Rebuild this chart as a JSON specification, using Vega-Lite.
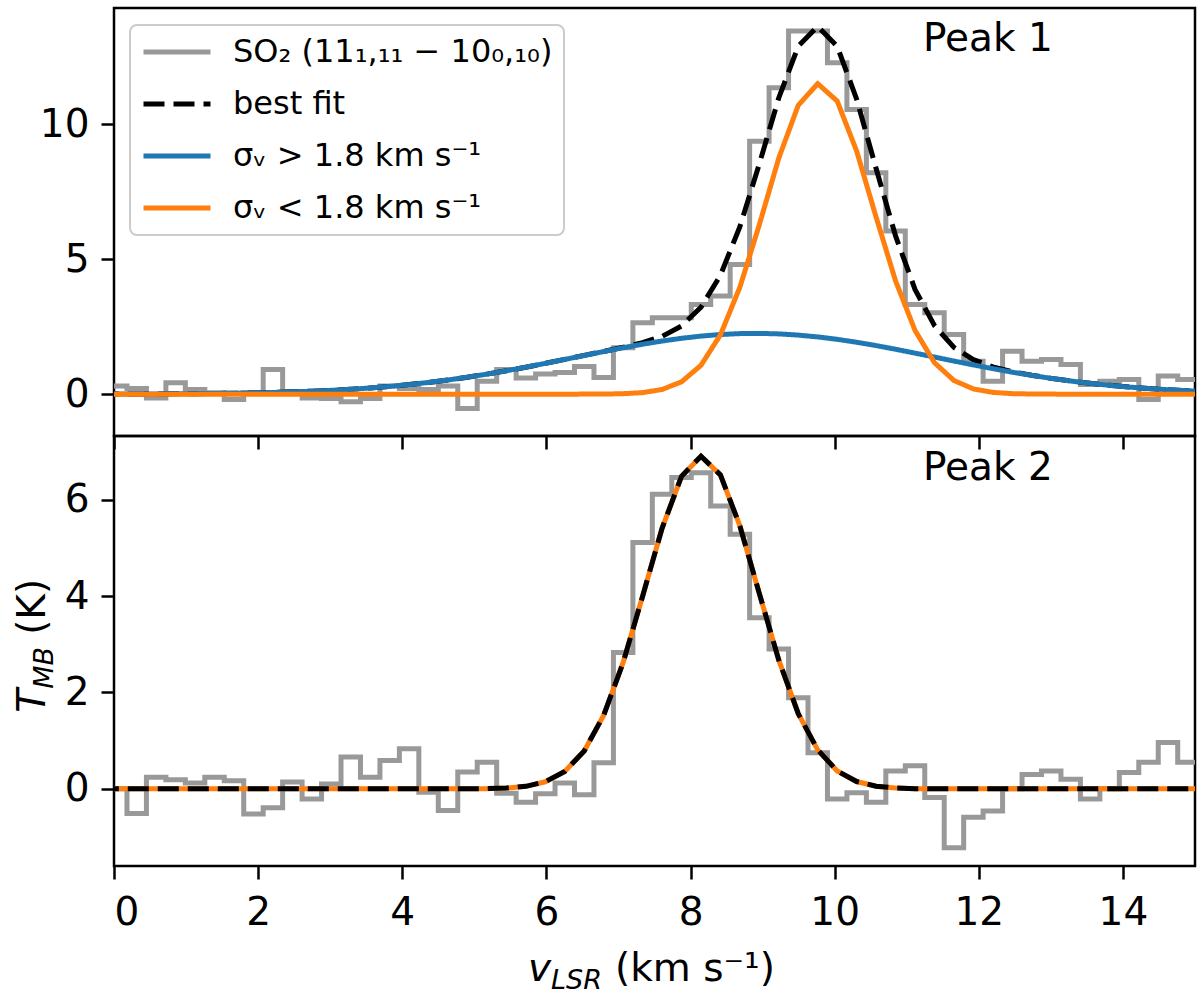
{
  "$schema": "https://vega.github.io/schema/vega-lite/v6.json",
  "background": "white",
  "padding": {"left": 12, "top": 6, "right": 5, "bottom": 0},
  "config": {
    "font": "DejaVu Sans",
    "view": {"stroke": "black", "strokeWidth": 2.5},
    "axis": {"grid": false, "domain": false, "ticks": true, "tickSize": 13, "tickWidth": 2.5, "tickColor": "black", "labelFont": "DejaVu Sans", "labelFontSize": 39, "labelColor": "black", "format": "d"},
    "legend": {
      "orient": "none", "legendX": 16, "legendY": 17, "title": null,
      "symbolType": "stroke", "symbolSize": 4489, "symbolStrokeWidth": 5,
      "labelFont": "DejaVu Sans", "labelFontSize": 32, "labelColor": "black", "labelLimit": 700,
      "labelOffset": 20, "rowPadding": 20, "padding": 11, "clipHeight": 32,
      "strokeColor": "#cccccc", "strokeWidth": 2, "fillColor": "rgba(255,255,255,0.8)", "cornerRadius": 7
    }
  },
  "datasets": {
    "top": [
      {"v": -0.225, "obs": 0.30, "best": 0.003, "broad": 0.003, "narrow": 0},
      {"v": 0.045, "obs": 0.30, "best": 0.004, "broad": 0.004, "narrow": 0},
      {"v": 0.315, "obs": 0.21, "best": 0.006, "broad": 0.006, "narrow": 0},
      {"v": 0.585, "obs": -0.14, "best": 0.009, "broad": 0.009, "narrow": 0},
      {"v": 0.855, "obs": 0.42, "best": 0.013, "broad": 0.013, "narrow": 0},
      {"v": 1.125, "obs": 0.17, "best": 0.018, "broad": 0.018, "narrow": 0},
      {"v": 1.395, "obs": 0.05, "best": 0.025, "broad": 0.025, "narrow": 0},
      {"v": 1.665, "obs": -0.20, "best": 0.034, "broad": 0.034, "narrow": 0},
      {"v": 1.935, "obs": 0.05, "best": 0.046, "broad": 0.046, "narrow": 0},
      {"v": 2.205, "obs": 0.91, "best": 0.062, "broad": 0.062, "narrow": 0},
      {"v": 2.475, "obs": 0.10, "best": 0.083, "broad": 0.083, "narrow": 0},
      {"v": 2.745, "obs": -0.14, "best": 0.109, "broad": 0.109, "narrow": 0},
      {"v": 3.015, "obs": -0.16, "best": 0.141, "broad": 0.141, "narrow": 0},
      {"v": 3.285, "obs": -0.28, "best": 0.181, "broad": 0.181, "narrow": 0},
      {"v": 3.555, "obs": -0.16, "best": 0.229, "broad": 0.229, "narrow": 0},
      {"v": 3.825, "obs": 0.30, "best": 0.287, "broad": 0.287, "narrow": 0},
      {"v": 4.095, "obs": 0.21, "best": 0.355, "broad": 0.355, "narrow": 0},
      {"v": 4.365, "obs": 0.17, "best": 0.434, "broad": 0.434, "narrow": 0},
      {"v": 4.635, "obs": 0.30, "best": 0.525, "broad": 0.525, "narrow": 0},
      {"v": 4.905, "obs": -0.53, "best": 0.628, "broad": 0.628, "narrow": 0},
      {"v": 5.175, "obs": 0.48, "best": 0.742, "broad": 0.742, "narrow": 0},
      {"v": 5.445, "obs": 0.91, "best": 0.866, "broad": 0.866, "narrow": 0},
      {"v": 5.715, "obs": 0.60, "best": 0.999, "broad": 0.999, "narrow": 0},
      {"v": 5.985, "obs": 0.75, "best": 1.140, "broad": 1.140, "narrow": 0},
      {"v": 6.255, "obs": 0.80, "best": 1.286, "broad": 1.286, "narrow": 0},
      {"v": 6.525, "obs": 1.02, "best": 1.434, "broad": 1.433, "narrow": 0.001},
      {"v": 6.795, "obs": 0.62, "best": 1.582, "broad": 1.578, "narrow": 0.004},
      {"v": 7.065, "obs": 1.72, "best": 1.735, "broad": 1.719, "narrow": 0.016},
      {"v": 7.335, "obs": 2.64, "best": 1.907, "broad": 1.850, "narrow": 0.057},
      {"v": 7.605, "obs": 2.83, "best": 2.139, "broad": 1.967, "narrow": 0.172},
      {"v": 7.875, "obs": 2.83, "best": 2.525, "broad": 2.068, "narrow": 0.457},
      {"v": 8.145, "obs": 3.32, "best": 3.218, "broad": 2.150, "narrow": 1.068},
      {"v": 8.415, "obs": 3.63, "best": 4.403, "broad": 2.208, "narrow": 2.195},
      {"v": 8.685, "obs": 4.80, "best": 6.204, "broad": 2.242, "narrow": 3.962},
      {"v": 8.955, "obs": 9.37, "best": 8.530, "broad": 2.250, "narrow": 6.280},
      {"v": 9.225, "obs": 11.35, "best": 10.977, "broad": 2.231, "narrow": 8.746},
      {"v": 9.495, "obs": 13.45, "best": 12.885, "broad": 2.187, "narrow": 10.698},
      {"v": 9.765, "obs": 13.45, "best": 13.617, "broad": 2.119, "narrow": 11.498},
      {"v": 10.035, "obs": 12.27, "best": 12.884, "broad": 2.030, "narrow": 10.854},
      {"v": 10.305, "obs": 10.54, "best": 10.922, "broad": 1.921, "narrow": 9.001},
      {"v": 10.575, "obs": 8.20, "best": 8.355, "broad": 1.798, "narrow": 6.557},
      {"v": 10.845, "obs": 6.04, "best": 5.859, "broad": 1.663, "narrow": 4.196},
      {"v": 11.115, "obs": 3.32, "best": 3.878, "broad": 1.519, "narrow": 2.359},
      {"v": 11.385, "obs": 3.01, "best": 2.538, "broad": 1.373, "narrow": 1.165},
      {"v": 11.655, "obs": 2.21, "best": 1.731, "broad": 1.226, "narrow": 0.505},
      {"v": 11.925, "obs": 1.22, "best": 1.275, "broad": 1.082, "narrow": 0.193},
      {"v": 12.195, "obs": 0.48, "best": 1.009, "broad": 0.944, "narrow": 0.065},
      {"v": 12.465, "obs": 1.59, "best": 0.833, "broad": 0.814, "narrow": 0.019},
      {"v": 12.735, "obs": 1.22, "best": 0.699, "broad": 0.694, "narrow": 0.005},
      {"v": 13.005, "obs": 1.28, "best": 0.585, "broad": 0.584, "narrow": 0.001},
      {"v": 13.275, "obs": 1.10, "best": 0.487, "broad": 0.487, "narrow": 0},
      {"v": 13.545, "obs": 0.36, "best": 0.400, "broad": 0.400, "narrow": 0},
      {"v": 13.815, "obs": 0.48, "best": 0.326, "broad": 0.326, "narrow": 0},
      {"v": 14.085, "obs": 0.54, "best": 0.262, "broad": 0.262, "narrow": 0},
      {"v": 14.355, "obs": -0.20, "best": 0.208, "broad": 0.208, "narrow": 0},
      {"v": 14.625, "obs": 0.67, "best": 0.164, "broad": 0.164, "narrow": 0},
      {"v": 14.895, "obs": 0.54, "best": 0.127, "broad": 0.127, "narrow": 0},
      {"v": 15.165, "obs": 0.54, "best": 0.097, "broad": 0.097, "narrow": 0}
    ],
    "bottom": [
      {"v": -0.225, "obs": 0.0, "fit": 0},
      {"v": 0.045, "obs": 0.0, "fit": 0},
      {"v": 0.315, "obs": -0.51, "fit": 0},
      {"v": 0.585, "obs": 0.24, "fit": 0},
      {"v": 0.855, "obs": 0.19, "fit": 0},
      {"v": 1.125, "obs": 0.12, "fit": 0},
      {"v": 1.395, "obs": 0.24, "fit": 0},
      {"v": 1.665, "obs": 0.17, "fit": 0},
      {"v": 1.935, "obs": -0.52, "fit": 0},
      {"v": 2.205, "obs": -0.39, "fit": 0},
      {"v": 2.475, "obs": 0.14, "fit": 0},
      {"v": 2.745, "obs": -0.21, "fit": 0},
      {"v": 3.015, "obs": 0.10, "fit": 0},
      {"v": 3.285, "obs": 0.66, "fit": 0},
      {"v": 3.555, "obs": 0.24, "fit": 0},
      {"v": 3.825, "obs": 0.59, "fit": 0},
      {"v": 4.095, "obs": 0.83, "fit": 0},
      {"v": 4.365, "obs": -0.07, "fit": 0},
      {"v": 4.635, "obs": -0.45, "fit": 0},
      {"v": 4.905, "obs": 0.35, "fit": 0},
      {"v": 5.175, "obs": 0.55, "fit": 0.005},
      {"v": 5.445, "obs": -0.09, "fit": 0.017},
      {"v": 5.715, "obs": -0.28, "fit": 0.053},
      {"v": 5.985, "obs": -0.10, "fit": 0.147},
      {"v": 6.255, "obs": 0.12, "fit": 0.361},
      {"v": 6.525, "obs": -0.12, "fit": 0.787},
      {"v": 6.795, "obs": 0.54, "fit": 1.526},
      {"v": 7.065, "obs": 2.83, "fit": 2.622},
      {"v": 7.335, "obs": 5.11, "fit": 3.997},
      {"v": 7.605, "obs": 6.11, "fit": 5.405},
      {"v": 7.875, "obs": 6.46, "fit": 6.484},
      {"v": 8.145, "obs": 6.56, "fit": 6.900},
      {"v": 8.415, "obs": 5.87, "fit": 6.513},
      {"v": 8.685, "obs": 5.28, "fit": 5.454},
      {"v": 8.955, "obs": 3.55, "fit": 4.051},
      {"v": 9.225, "obs": 2.90, "fit": 2.669},
      {"v": 9.495, "obs": 1.89, "fit": 1.560},
      {"v": 9.765, "obs": 0.75, "fit": 0.809},
      {"v": 10.035, "obs": -0.21, "fit": 0.372},
      {"v": 10.305, "obs": -0.08, "fit": 0.152},
      {"v": 10.575, "obs": -0.28, "fit": 0.055},
      {"v": 10.845, "obs": 0.37, "fit": 0.018},
      {"v": 11.115, "obs": 0.48, "fit": 0.005},
      {"v": 11.385, "obs": -0.18, "fit": 0},
      {"v": 11.655, "obs": -1.22, "fit": 0},
      {"v": 11.925, "obs": -0.59, "fit": 0},
      {"v": 12.195, "obs": -0.46, "fit": 0},
      {"v": 12.465, "obs": 0.0, "fit": 0},
      {"v": 12.735, "obs": 0.30, "fit": 0},
      {"v": 13.005, "obs": 0.37, "fit": 0},
      {"v": 13.275, "obs": 0.20, "fit": 0},
      {"v": 13.545, "obs": -0.21, "fit": 0},
      {"v": 13.815, "obs": 0.0, "fit": 0},
      {"v": 14.085, "obs": 0.34, "fit": 0},
      {"v": 14.355, "obs": 0.55, "fit": 0},
      {"v": 14.625, "obs": 0.96, "fit": 0},
      {"v": 14.895, "obs": 0.55, "fit": 0},
      {"v": 15.165, "obs": 0.55, "fit": 0}
    ]
  },
  "spacing": 0,
  "bounds": "flush",
  "resolve": {"scale": {"color": "independent", "strokeDash": "independent"}},
  "vconcat": [
    {
      "width": 1081,
      "height": 428,
      "layer": [
        {
          "data": {"name": "top"},
          "mark": {"type": "line", "interpolate": "step", "clip": true, "strokeWidth": 5},
          "encoding": {
            "x": {"field": "v", "type": "quantitative", "scale": {"domain": [0, 15], "nice": false, "zero": false}, "axis": {"values": [0, 2, 4, 6, 8, 10, 12, 14], "labels": false, "title": null}},
            "y": {"field": "obs", "type": "quantitative", "scale": {"domain": [-1.55, 14.3], "nice": false, "zero": false}, "axis": {"values": [0, 5, 10], "title": null, "labelPadding": 12}},
            "color": {"datum": "SO₂ (11₁,₁₁ − 10₀,₁₀)", "type": "nominal", "scale": {"domain": ["SO₂ (11₁,₁₁ − 10₀,₁₀)", "best fit", "σᵥ > 1.8 km s⁻¹", "σᵥ < 1.8 km s⁻¹"], "range": ["#999999", "#000000", "#1f77b4", "#ff7f0e"]}},
            "strokeDash": {"datum": "SO₂ (11₁,₁₁ − 10₀,₁₀)", "type": "nominal", "scale": {"domain": ["SO₂ (11₁,₁₁ − 10₀,₁₀)", "best fit", "σᵥ > 1.8 km s⁻¹", "σᵥ < 1.8 km s⁻¹"], "range": [[1, 0], [21, 9], [1, 0], [1, 0]]}}
          }
        },
        {
          "data": {"name": "top"},
          "mark": {"type": "line", "clip": true, "strokeWidth": 5},
          "encoding": {
            "x": {"field": "v", "type": "quantitative", "scale": {"domain": [0, 15], "nice": false, "zero": false}},
            "y": {"field": "best", "type": "quantitative", "scale": {"domain": [-1.55, 14.3], "nice": false, "zero": false}},
            "color": {"datum": "best fit", "type": "nominal"},
            "strokeDash": {"datum": "best fit", "type": "nominal"}
          }
        },
        {
          "data": {"name": "top"},
          "mark": {"type": "line", "clip": true, "strokeWidth": 5},
          "encoding": {
            "x": {"field": "v", "type": "quantitative", "scale": {"domain": [0, 15], "nice": false, "zero": false}},
            "y": {"field": "broad", "type": "quantitative", "scale": {"domain": [-1.55, 14.3], "nice": false, "zero": false}},
            "color": {"datum": "σᵥ > 1.8 km s⁻¹", "type": "nominal"},
            "strokeDash": {"datum": "σᵥ > 1.8 km s⁻¹", "type": "nominal"}
          }
        },
        {
          "data": {"name": "top"},
          "mark": {"type": "line", "clip": true, "strokeWidth": 5},
          "encoding": {
            "x": {"field": "v", "type": "quantitative", "scale": {"domain": [0, 15], "nice": false, "zero": false}},
            "y": {"field": "narrow", "type": "quantitative", "scale": {"domain": [-1.55, 14.3], "nice": false, "zero": false}},
            "color": {"datum": "σᵥ < 1.8 km s⁻¹", "type": "nominal"},
            "strokeDash": {"datum": "σᵥ < 1.8 km s⁻¹", "type": "nominal"}
          }
        },
        {
          "data": {"values": [{}]},
          "mark": {"type": "text", "text": "Peak 1", "align": "left", "baseline": "alphabetic", "fontSize": 39, "font": "DejaVu Sans", "color": "black"},
          "encoding": {
            "x": {"datum": 11.225, "type": "quantitative", "scale": {"domain": [0, 15], "nice": false, "zero": false}},
            "y": {"datum": 12.70, "type": "quantitative", "scale": {"domain": [-1.55, 14.3], "nice": false, "zero": false}}
          }
        }
      ]
    },
    {
      "width": 1081,
      "height": 430,
      "layer": [
        {
          "data": {"name": "bottom"},
          "mark": {"type": "line", "interpolate": "step", "clip": true, "strokeWidth": 5, "stroke": "#999999"},
          "encoding": {
            "x": {"field": "v", "type": "quantitative", "scale": {"domain": [0, 15], "nice": false, "zero": false}, "axis": {"values": [0, 2, 4, 6, 8, 10, 12, 14], "title": null, "labelPadding": 14, "format": "d"}},
            "y": {"field": "obs", "type": "quantitative", "scale": {"domain": [-1.6, 7.32], "nice": false, "zero": false}, "axis": {"values": [0, 2, 4, 6], "title": null, "labelPadding": 12, "format": "d"}}
          }
        },
        {
          "data": {"name": "bottom"},
          "mark": {"type": "line", "clip": true, "strokeWidth": 5, "stroke": "#ff7f0e"},
          "encoding": {
            "x": {"field": "v", "type": "quantitative", "scale": {"domain": [0, 15], "nice": false, "zero": false}},
            "y": {"field": "fit", "type": "quantitative", "scale": {"domain": [-1.6, 7.32], "nice": false, "zero": false}}
          }
        },
        {
          "data": {"name": "bottom"},
          "mark": {"type": "line", "clip": true, "strokeWidth": 5, "stroke": "#000000", "strokeDash": [21, 9]},
          "encoding": {
            "x": {"field": "v", "type": "quantitative", "scale": {"domain": [0, 15], "nice": false, "zero": false}},
            "y": {"field": "fit", "type": "quantitative", "scale": {"domain": [-1.6, 7.32], "nice": false, "zero": false}}
          }
        },
        {
          "data": {"values": [{}]},
          "mark": {"type": "text", "text": "Peak 2", "align": "left", "baseline": "alphabetic", "fontSize": 39, "font": "DejaVu Sans", "color": "black"},
          "encoding": {
            "x": {"datum": 11.225, "type": "quantitative", "scale": {"domain": [0, 15], "nice": false, "zero": false}},
            "y": {"datum": 6.41, "type": "quantitative", "scale": {"domain": [-1.6, 7.32], "nice": false, "zero": false}}
          }
        },
        {
          "data": {"values": [{}]},
          "mark": {"type": "text", "text": "T", "angle": 270, "align": "left", "baseline": "alphabetic", "fontSize": 39, "fontStyle": "italic", "font": "DejaVu Sans", "color": "black"},
          "encoding": {
            "x": {"datum": -0.957, "type": "quantitative", "scale": {"domain": [0, 15], "nice": false, "zero": false}},
            "y": {"datum": 1.577, "type": "quantitative", "scale": {"domain": [-1.6, 7.32], "nice": false, "zero": false}}
          }
        },
        {
          "data": {"values": [{}]},
          "mark": {"type": "text", "text": "MB", "angle": 270, "align": "left", "baseline": "alphabetic", "fontSize": 27, "fontStyle": "italic", "font": "DejaVu Sans", "color": "black"},
          "encoding": {
            "x": {"datum": -0.846, "type": "quantitative", "scale": {"domain": [0, 15], "nice": false, "zero": false}},
            "y": {"datum": 2.075, "type": "quantitative", "scale": {"domain": [-1.6, 7.32], "nice": false, "zero": false}}
          }
        },
        {
          "data": {"values": [{}]},
          "mark": {"type": "text", "text": "(K)", "angle": 270, "align": "left", "baseline": "alphabetic", "fontSize": 39, "font": "DejaVu Sans", "color": "black"},
          "encoding": {
            "x": {"datum": -0.957, "type": "quantitative", "scale": {"domain": [0, 15], "nice": false, "zero": false}},
            "y": {"datum": 3.195, "type": "quantitative", "scale": {"domain": [-1.6, 7.32], "nice": false, "zero": false}}
          }
        },
        {
          "data": {"values": [{}]},
          "mark": {"type": "text", "text": "v", "align": "left", "baseline": "alphabetic", "fontSize": 39, "fontStyle": "italic", "font": "DejaVu Sans", "color": "black"},
          "encoding": {
            "x": {"datum": 5.744, "type": "quantitative", "scale": {"domain": [0, 15], "nice": false, "zero": false}},
            "y": {"datum": -3.983, "type": "quantitative", "scale": {"domain": [-1.6, 7.32], "nice": false, "zero": false}}
          }
        },
        {
          "data": {"values": [{}]},
          "mark": {"type": "text", "text": "LSR", "align": "left", "baseline": "alphabetic", "fontSize": 27, "fontStyle": "italic", "font": "DejaVu Sans", "color": "black"},
          "encoding": {
            "x": {"datum": 6.064, "type": "quantitative", "scale": {"domain": [0, 15], "nice": false, "zero": false}},
            "y": {"datum": -4.149, "type": "quantitative", "scale": {"domain": [-1.6, 7.32], "nice": false, "zero": false}}
          }
        },
        {
          "data": {"values": [{}]},
          "mark": {"type": "text", "text": "(km s⁻¹)", "align": "left", "baseline": "alphabetic", "fontSize": 39, "font": "DejaVu Sans", "color": "black"},
          "encoding": {
            "x": {"datum": 6.952, "type": "quantitative", "scale": {"domain": [0, 15], "nice": false, "zero": false}},
            "y": {"datum": -3.983, "type": "quantitative", "scale": {"domain": [-1.6, 7.32], "nice": false, "zero": false}}
          }
        }
      ]
    }
  ]
}
